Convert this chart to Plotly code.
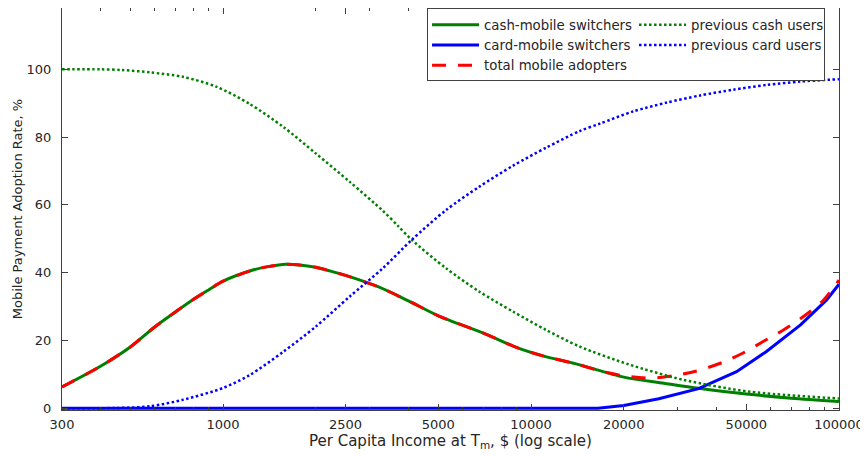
import plotly.graph_objects as go

# ---------------- data ----------------
# cash-mobile switchers (green solid)
cash_mobile_x = [300, 400, 500, 600, 700, 800, 900, 1000, 1250, 1400, 1600, 1800, 2000, 2250,
                 2500, 3200, 4000, 5000, 7000, 9000, 11000, 14000, 20000, 27000, 35000, 50000,
                 70000, 100000]
cash_mobile_y = [6.3, 12.4, 18.1, 24.0, 28.4, 32.1, 35.0, 37.5, 40.8, 41.8, 42.5, 42.2, 41.6, 40.4,
                 39.2, 35.8, 31.7, 27.3, 22.2, 17.9, 15.4, 13.1, 9.2, 7.4, 5.9, 4.2,
                 3.0, 2.0]

# card-mobile switchers (blue solid)
card_mobile_x = [300, 16500, 20000, 26000, 35000, 46500, 58000, 75000, 91000, 100000]
card_mobile_y = [0, 0, 0.8, 2.8, 5.8, 10.8, 16.7, 24.6, 31.9, 36.6]

# total mobile adopters (red dashed)
total_x = [300, 400, 500, 600, 700, 800, 900, 1000, 1250, 1400, 1600, 1800, 2000, 2250,
           2500, 3200, 4000, 5000, 7000, 9000, 11000, 14000, 17000, 20000, 24300, 29000,
           34500, 42000, 49000, 56700, 66000, 76500, 89000, 100000]
total_y = [6.3, 12.4, 18.1, 24.0, 28.4, 32.1, 35.0, 37.5, 40.8, 41.8, 42.5, 42.2, 41.6, 40.4,
           39.2, 35.8, 31.7, 27.3, 22.2, 17.9, 15.4, 13.1, 10.9, 9.6, 8.9, 9.6,
           11.0, 13.6, 16.4, 19.7, 23.1, 27.0, 31.9, 37.8]

# previous cash users (green dotted)
prev_cash_x = [300, 400, 470, 580, 740, 950, 1220, 1570, 2000, 2580, 3300, 3700, 4100, 5300,
               6800, 8750, 11200, 14400, 20700, 31200, 51400, 100000]
prev_cash_y = [100, 100, 99.8, 99.1, 97.8, 94.9, 89.8, 83.0, 75.2, 66.8, 58.3, 53.8, 49.7, 41.3,
               34.4, 28.5, 23.1, 18.2, 13.0, 8.4, 4.9, 2.9]

# previous card users (blue dotted)
prev_card_x = [300, 450, 580, 740, 1000, 1220, 1570, 2000, 2580, 3300, 4100, 5300, 6800, 8750,
               11200, 14400, 16750, 21500, 27600, 35400, 45400, 58200, 74700, 100000]
prev_card_y = [0, 0.1, 0.6, 2.5, 6.0, 9.8, 16.7, 24.1, 33.0, 41.3, 49.7, 58.5, 65.4, 71.6,
               76.9, 81.8, 84.0, 87.6, 90.2, 92.3, 94.0, 95.4, 96.4, 97.1]

x_tick_vals = [300, 1000, 2500, 5000, 10000, 20000, 50000, 100000]
x_tick_text = ["300", "1000", "2500", "5000", "10000", "20000", "50000", "100000"]
x_minor_vals = [400, 500, 600, 700, 800, 900, 2000, 3000, 4000, 6000, 7000, 8000, 9000,
                30000, 40000, 60000, 70000, 80000, 90000]
y_tick_vals = [0, 20, 40, 60, 80, 100]

GREEN = "#008000"
BLUE = "#0000ff"
RED = "#ff0000"
FONT = "DejaVu Sans"
TXT = "#262626"
AX = "#404040"

fig = go.Figure()
fig.add_trace(go.Scatter(x=cash_mobile_x, y=cash_mobile_y, mode="lines",
                         name="cash-mobile switchers", legendgroup="a",
                         line=dict(color=GREEN, width=3, shape="spline", smoothing=0.8)))
fig.add_trace(go.Scatter(x=card_mobile_x, y=card_mobile_y, mode="lines",
                         name="card-mobile switchers", legendgroup="a",
                         line=dict(color=BLUE, width=3)))
fig.add_trace(go.Scatter(x=total_x, y=total_y, mode="lines",
                         name="total mobile adopters", legendgroup="a",
                         line=dict(color=RED, width=3, dash="14px,12px",
                                   shape="spline", smoothing=0.8)))
fig.add_trace(go.Scatter(x=prev_cash_x, y=prev_cash_y, mode="lines",
                         name="previous cash users", legendgroup="b", legendwidth=128,
                         line=dict(color=GREEN, width=2.5, dash="2.5px,2.5px",
                                   shape="spline", smoothing=0.8)))
fig.add_trace(go.Scatter(x=prev_card_x, y=prev_card_y, mode="lines",
                         name="previous card users", legendgroup="b", legendwidth=128,
                         line=dict(color=BLUE, width=2.5, dash="2.5px,2.5px",
                                   shape="spline", smoothing=0.8)))

# the page places the figure 8px from the top-left corner of the window
fig.update_layout(
    width=860, height=448,
    margin=dict(l=54, r=29, t=0, b=46),
    paper_bgcolor="white", plot_bgcolor="white",
    font=dict(family=FONT, size=13, color=TXT),
    legend=dict(orientation="h", x=0.4698, y=0.908, xanchor="left", yanchor="middle",
                bgcolor="white", bordercolor=AX, borderwidth=1,
                font=dict(family=FONT, size=13.3, color=TXT),
                itemwidth=47, entrywidth=145, tracegroupgap=0),
    xaxis=dict(type="log", range=[2.47712, 5.0],
               tickvals=x_tick_vals, ticktext=x_tick_text,
               ticks="inside", ticklen=6, tickwidth=1, tickcolor=AX,
               minor=dict(tickvals=x_minor_vals, ticks="inside", ticklen=3, tickcolor=AX),
               showline=True, linecolor=AX, linewidth=1, mirror="ticks",
               showgrid=False, zeroline=False, automargin=False,
               tickfont=dict(family=FONT, size=13, color=TXT),
               ticklabelstandoff=2,
               title=dict(text="Per Capita Income at T<sub>m</sub>, $ (log scale)",
                          font=dict(family=FONT, size=15, color=TXT), standoff=3)),
    yaxis=dict(range=[-0.5, 118.1], tickvals=y_tick_vals,
               ticks="inside", ticklen=6, tickwidth=1, tickcolor=AX,
               showline=True, linecolor=AX, linewidth=1, mirror="ticks",
               showgrid=False, zeroline=False, automargin=False,
               tickfont=dict(family=FONT, size=13, color=TXT),
               ticklabelstandoff=7,
               title=dict(text="Mobile Payment Adoption Rate, %",
                          font=dict(family=FONT, size=13, color=TXT), standoff=1)),
)

fig.write_html("out.html")
